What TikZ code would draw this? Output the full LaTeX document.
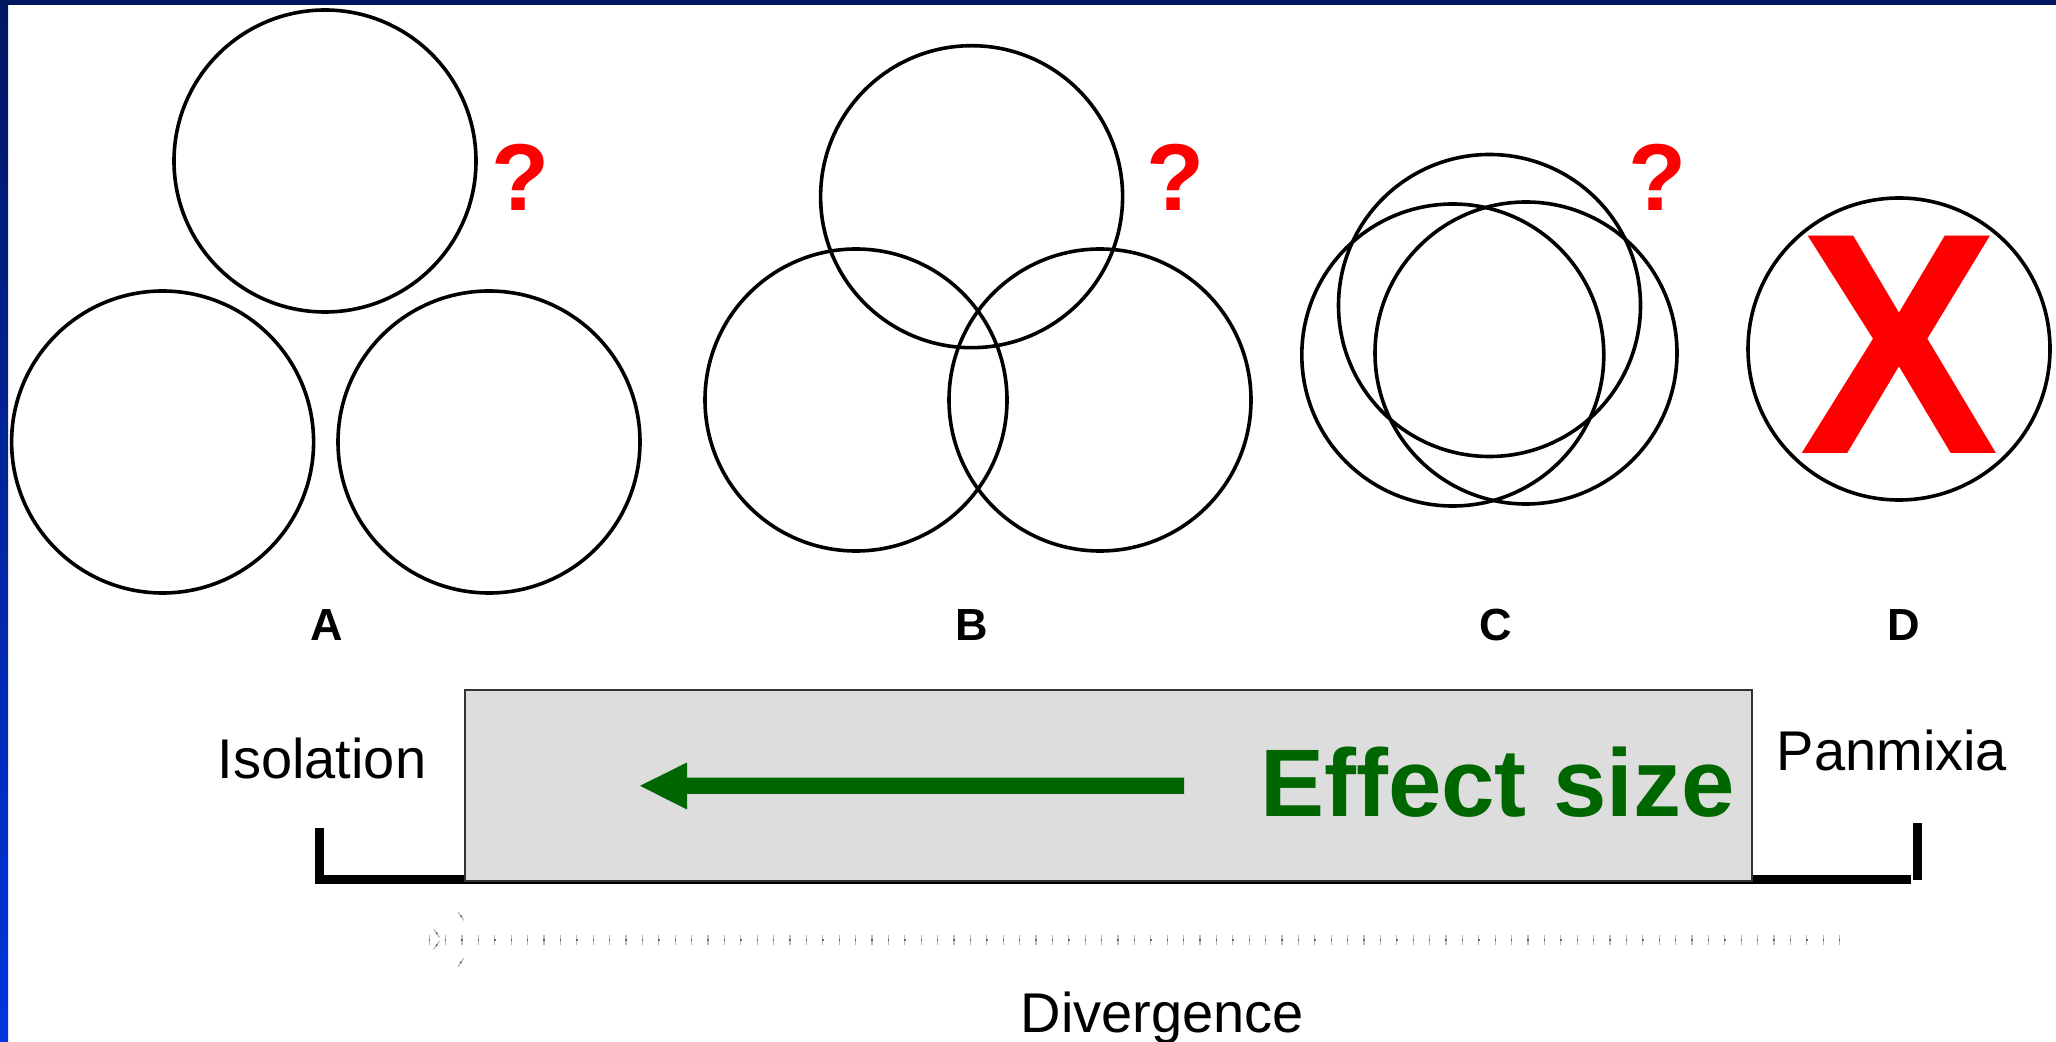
\documentclass[tikz,border=0pt]{standalone}
\usepackage{fontspec}
\setmainfont{Liberation Sans}
\definecolor{navy}{HTML}{001660}
\definecolor{barblue}{HTML}{0035E0}
\definecolor{boxgrey}{HTML}{DDDDDD}
\definecolor{effgreen}{HTML}{006600}
\definecolor{qred}{HTML}{FF0000}
\definecolor{tickgrey}{HTML}{BBBBBB}
\begin{document}
\begin{tikzpicture}[x=0.5pt,y=-0.5pt,
  ring/.style={circle,draw=black,line width=1.8pt,minimum size=151pt,inner sep=0pt},
  qmark/.style={anchor=base,inner sep=0pt,text=qred,font=\fontsize{47.5pt}{50pt}\selectfont\bfseries},
  lab/.style={anchor=base,inner sep=0pt,font=\fontsize{22.5pt}{24pt}\selectfont\bfseries},
  side/.style={anchor=base,inner sep=0pt,font=\fontsize{28pt}{30pt}\selectfont},
  bracket/.style={line width=4.5pt,black},
  ticks/.style={tickgrey,line width=5pt},
  dots/.style={black!60,line width=1pt}]
\useasboundingbox (0,0) rectangle (2056,1042);
\fill[white] (0,0) rectangle (2056,1042);
% frame bars
\shade[top color=navy,bottom color=barblue] (0,0) rectangle (8,1042);
\fill[navy] (0,0) rectangle (2056,5);
% circles A
\node[ring] (a1) at (325,161) {};
\node[ring] (a2) at (162.6,442) {};
\node[ring] (a3) at (489,442) {};
% circles B
\node[ring] (b1) at (971.6,196.7) {};
\node[ring] (b2) at (856,400) {};
\node[ring] (b3) at (1100,400) {};
% circles C
\node[ring] (c1) at (1489.5,305.5) {};
\node[ring] (c2) at (1452.8,355) {};
\node[ring] (c3) at (1526,353) {};
% circle D with X
\node[ring] (d1) at (1899,349) {};
\node[anchor=base,inner sep=0pt,text=qred,font=\fontsize{158pt}{160pt}\selectfont\bfseries] (dx) at (1899,453.3) {\scalebox{0.947}[1]{X}};
% question marks
\node[qmark] (qa) at (521,210.7) {?};
\node[qmark] (qb) at (1176,210.7) {?};
\node[qmark] (qc) at (1657.5,210.7) {?};
% letters
\node[lab] (la) at (326.5,640.7) {A};
\node[lab] (lb) at (971.6,640.7) {B};
\node[lab] (lc) at (1496,640.7) {C};
\node[lab] (ld) at (1904,640.7) {D};
% bracket
\coordinate (bl1) at (319.5,828);
\coordinate (bl2) at (319.5,879);
\coordinate (br1) at (1911,879);
\coordinate (br2) at (1917,823);
\draw[bracket] (bl1) -- (319.5,883.5);
\draw[bracket] (315,879) -- (br1);
\draw[bracket] (br2) -- (1917,879.5);
% grey box
\node[draw=black!80,line width=0.8pt,fill=boxgrey,anchor=north west,minimum width=643.7pt,minimum height=95.7pt,inner sep=0pt] (box) at (464,689) {};
% green arrow
\coordinate (gs) at (1184,785.8);
\coordinate (gt) at (640,785.8);
\fill[effgreen] (1184,777.7) -- (687,777.7) -- (687,762.5) -- (gt) -- (687,809.5) -- (687,793.9) -- (1184,793.9) -- cycle;
\node[anchor=base,inner sep=0pt,text=effgreen,font=\fontsize{48pt}{50pt}\selectfont\bfseries] (eff) at (1497.5,816) {Effect size};
% side labels
\node[side] (iso) at (322,778.3) {Isolation};
\node[side] (pan) at (1892,770.7) {Panmixia};
\node[side] (div) at (1162.5,1032) {Divergence};
% faint divergence arrow
\coordinate (ds) at (1846,940);
\coordinate (dt) at (428.5,940);
\coordinate (tip) at (428.3,939.2);
\coordinate (hu) at (473,908);
\coordinate (hl) at (473,971);
\draw[ticks,dash pattern=on 0.6pt off 7.6pt] (dt) -- (ds);
\draw[dots,dash pattern=on 0.7pt off 7.5pt] (dt) -- (ds);
\draw[ticks,dash pattern=on 0pt off 4.8pt on 0.6pt off 9.5pt] (tip) -- (hu);
\draw[ticks,dash pattern=on 0pt off 4.8pt on 0.6pt off 9.5pt] (tip) -- (hl);
\draw[dots,dash pattern=on 0pt off 4.8pt on 0.7pt off 9.4pt] (tip) -- (hu);
\draw[dots,dash pattern=on 0pt off 4.8pt on 0.7pt off 9.4pt] (tip) -- (hl);
\end{tikzpicture}
\end{document}
